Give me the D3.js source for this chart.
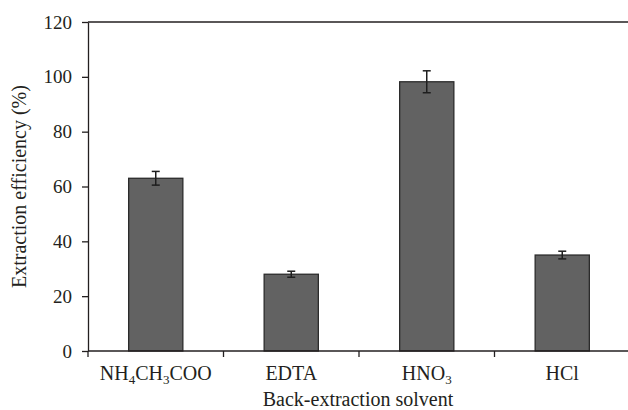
<!DOCTYPE html>
<html>
<head>
<meta charset="utf-8">
<script src="https://cdn.jsdelivr.net/npm/d3@7"></script>
<style>
  body { margin: 0; background: #fff; }
  svg text { font-family: "Liberation Serif", "DejaVu Serif", serif; fill: #231f20; }
</style>
</head>
<body>
<div id="chart"></div>
<script>
// values
const categories = ["NH4CH3COO", "EDTA", "HNO3", "HCl"];
const efficiency = [63, 28, 98.2, 35];
const errors = [2.5, 1.1, 4, 1.4];
const yTicks = [0, 20, 40, 60, 80, 100, 120];

const W = 628, H = 410;
const margin = { top: 22, right: -2, bottom: 59, left: 88 };
const ink = "#231f20";

const svg = d3.select("#chart").append("svg")
    .attr("width", W)
    .attr("height", H);

const x = d3.scaleBand()
    .domain(categories)
    .range([margin.left, W - margin.right])
    .paddingInner(0.6)
    .paddingOuter(0.3);

const y = d3.scaleLinear()
    .domain([0, 120])
    .range([H - margin.bottom, margin.top]);

const data = categories.map((c, i) => ({ name: c, v: efficiency[i], e: errors[i] }));

// top frame line at 120
svg.append("line")
    .attr("x1", margin.left).attr("x2", W)
    .attr("y1", y(120)).attr("y2", y(120))
    .attr("stroke", ink).attr("stroke-width", 1.3);

// bars
svg.selectAll(".bar")
    .data(data)
    .enter().append("rect")
    .attr("class", "bar")
    .attr("x", d => x(d.name))
    .attr("y", d => y(d.v))
    .attr("width", x.bandwidth())
    .attr("height", d => y(0) - y(d.v))
    .attr("fill", "#626262")
    .attr("stroke", "#2b2b2b")
    .attr("stroke-width", 1.3);

// error bars
const eb = svg.selectAll(".err")
    .data(data)
    .enter().append("g")
    .attr("class", "err")
    .attr("stroke", "#1e1e1e")
    .attr("stroke-width", 1.5);

eb.append("line")
    .attr("x1", d => x(d.name) + x.bandwidth() / 2)
    .attr("x2", d => x(d.name) + x.bandwidth() / 2)
    .attr("y1", d => y(d.v + d.e))
    .attr("y2", d => y(d.v - d.e));

[1, -1].forEach(s => {
    eb.append("line")
        .attr("x1", d => x(d.name) + x.bandwidth() / 2 - 4)
        .attr("x2", d => x(d.name) + x.bandwidth() / 2 + 4)
        .attr("y1", d => y(d.v + s * d.e))
        .attr("y2", d => y(d.v + s * d.e));
});

// y axis
const yAxis = svg.append("g")
    .attr("transform", `translate(${margin.left},0)`)
    .call(d3.axisLeft(y).tickValues(yTicks).tickSize(6).tickSizeOuter(0).tickPadding(10));

yAxis.selectAll("path, line").attr("stroke", ink).attr("stroke-width", 1.3);
yAxis.selectAll("text").style("font-size", "19px").attr("fill", ink);

// x axis line and boundary ticks
const xAxis = svg.append("g");
xAxis.append("line")
    .attr("x1", margin.left).attr("x2", W)
    .attr("y1", y(0)).attr("y2", y(0))
    .attr("stroke", ink).attr("stroke-width", 1.3);

const gap = (x.step() - x.bandwidth()) / 2;
xAxis.selectAll(".xtick")
    .data(categories)
    .enter().append("line")
    .attr("class", "xtick")
    .attr("x1", d => x(d) - gap)
    .attr("x2", d => x(d) - gap)
    .attr("y1", y(0))
    .attr("y2", y(0) + 6)
    .attr("stroke", ink).attr("stroke-width", 1.3);

// category labels, digits drawn as subscripts
const labels = xAxis.selectAll(".xlab")
    .data(categories)
    .enter().append("text")
    .attr("class", "xlab")
    .attr("x", d => x(d) + x.bandwidth() / 2)
    .attr("y", y(0) + 29)
    .attr("text-anchor", "middle")
    .style("font-size", "20px");

labels.each(function (d) {
    const t = d3.select(this);
    d.split(/(\d+)/).filter(p => p.length).forEach(p => {
        if (/^\d+$/.test(p)) {
            t.append("tspan").attr("dy", 4).style("font-size", "13px").text(p);
        } else {
            const prevSub = t.selectAll("tspan").size() > 0 &&
                /^\d+$/.test(t.select("tspan:last-child").text());
            t.append("tspan").attr("dy", prevSub ? -4 : 0).text(p);
        }
    });
});

// axis titles
svg.append("text")
    .attr("x", 358)
    .attr("y", H - 4)
    .attr("text-anchor", "middle")
    .style("font-size", "20px")
    .text("Back-extraction solvent");

svg.append("text")
    .attr("transform", `translate(26,${(y(0) + y(120)) / 2}) rotate(-90)`)
    .attr("text-anchor", "middle")
    .style("font-size", "20px")
    .text("Extraction efficiency (%)");
</script>
</body>
</html>
